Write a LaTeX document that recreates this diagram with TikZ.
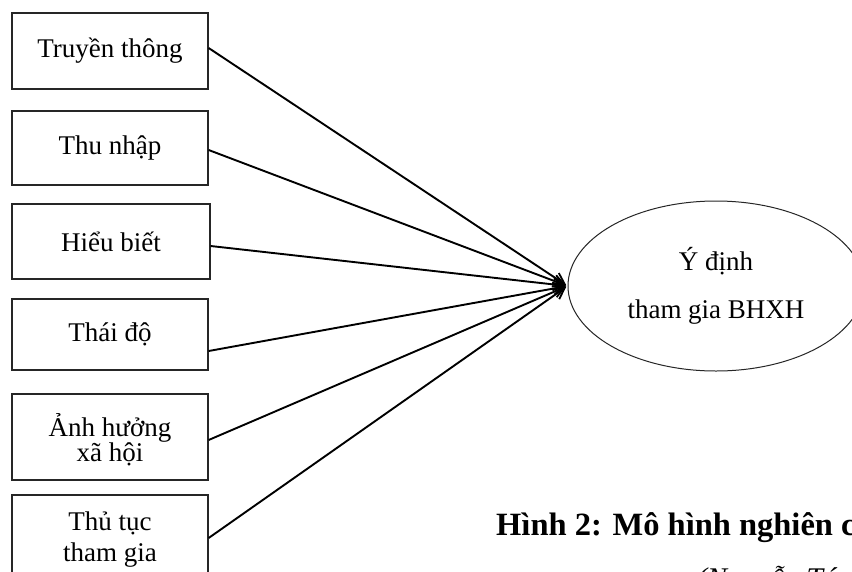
\documentclass[tikz,border=0pt]{standalone}
\usepackage{fontspec}
\setmainfont{Liberation Serif}
\usetikzlibrary{arrows.meta,calc,shapes.geometric}
\begin{document}
\begin{tikzpicture}[x=1pt,y=-1pt,
  box/.style={draw=black!85, line width=1.3pt, minimum width=196pt, inner sep=0pt, align=center, font=\fontsize{27}{25}\selectfont},
  conn/.style={line width=1.9pt, shorten >=1.5pt, -{Straight Barb[length=11pt,width=12pt,line width=1.8pt]}}]
\useasboundingbox (0,0) rectangle (852,571);
\clip (0,0) rectangle (852,571);
\fill[white] (0,0) rectangle (852,571);
\node[box, minimum height=76pt] (b1) at (110,51) {Truyền thông};
\node[box, minimum height=74pt] (b2) at (110,148) {Thu nhập};
\node[box, minimum height=75pt, minimum width=198pt] (b3) at (111,241.5) {Hiểu biết};
\node[box, minimum height=71pt] (b4) at (110,334.5) {Thái độ};
\node[box, minimum height=86pt, text depth=0pt] (b5) at (110,437) {Ảnh hưởng\\xã hội};
\node[box, minimum height=90pt, font=\fontsize{27}{31}\selectfont] (b6) at (110,540) {Thủ tục\\tham gia};
\node[draw=black!85, line width=1pt, ellipse, minimum width=296pt, minimum height=170pt, inner sep=0pt, align=center, font=\fontsize{27}{48}\selectfont] (e) at (716,286) {Ý định\\tham gia BHXH};
\draw[conn] ($(b1.east)+(0,-3)$) -- (e.west);
\draw[conn] ($(b2.east)+(0,2)$) -- (e.west);
\draw[conn] ($(b3.east)+(0,4.5)$) -- (e.west);
\draw[conn] ($(b4.east)+(0,16.5)$) -- (e.west);
\draw[conn] ($(b5.east)+(0,3)$) -- (e.west);
\draw[conn] ($(b6.east)+(0,-2)$) -- (e.west);
\node[anchor=base west, inner sep=0pt, font=\fontsize{32.5}{32}\selectfont\bfseries] (cap) at (496,535) {Hình 2: Mô hình nghiên c};
\node[anchor=base west, inner sep=0pt, font=\fontsize{30}{30}\selectfont\itshape] (src) at (697,588) {(Nguyễn Tá};
\end{tikzpicture}
\end{document}
